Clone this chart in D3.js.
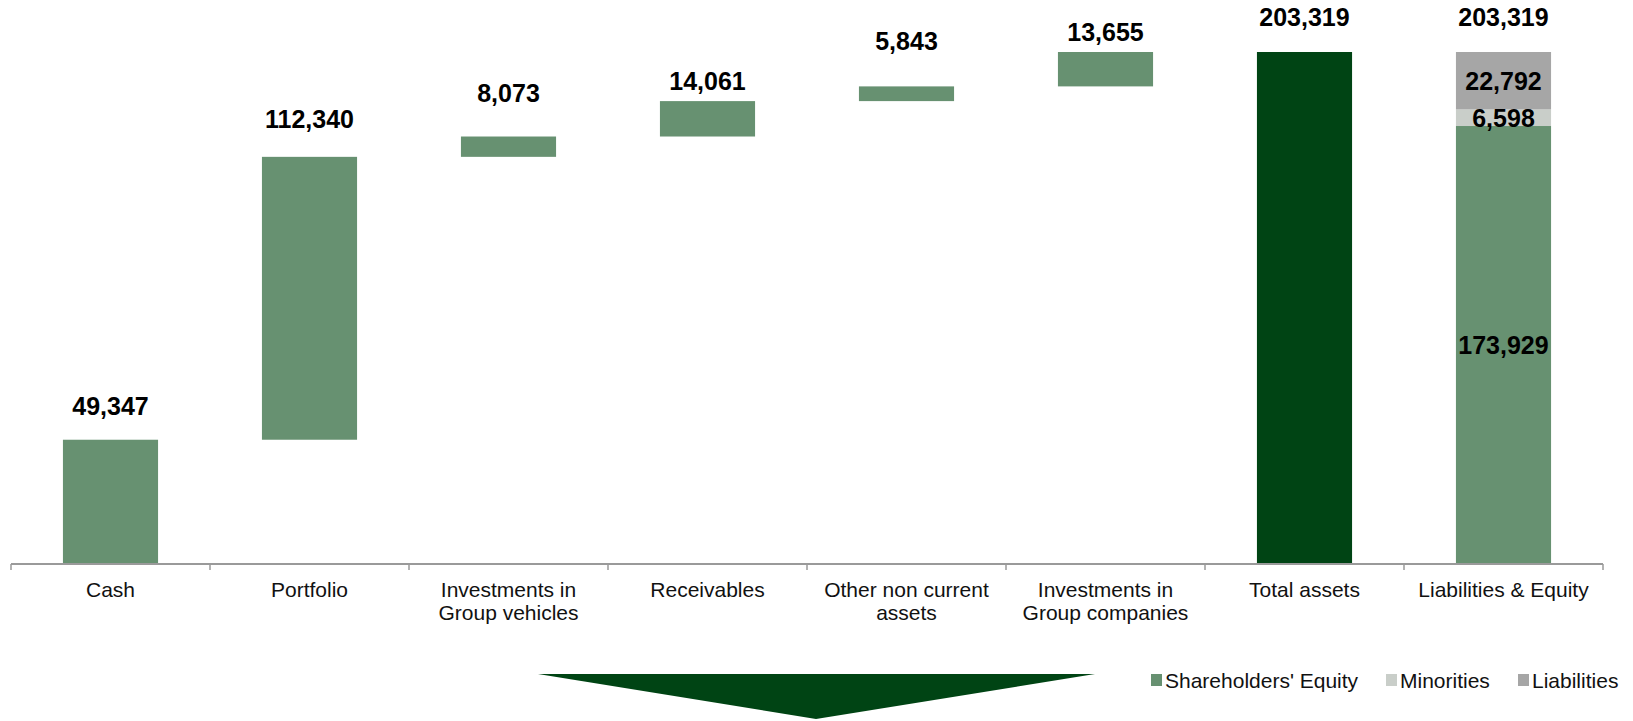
<!DOCTYPE html>
<html>
<head>
<meta charset="utf-8">
<script src="https://cdn.jsdelivr.net/npm/d3@7"></script>
<style>
  html, body { margin: 0; padding: 0; background: #ffffff; }
  svg { display: block; font-family: "Liberation Sans", Arial, sans-serif; }
</style>
</head>
<body>
<svg id="chart" width="1633" height="721"></svg>
<script>
// ---- data ----
const categories = [
  ["Cash"],
  ["Portfolio"],
  ["Investments in", "Group vehicles"],
  ["Receivables"],
  ["Other non current", "assets"],
  ["Investments in", "Group companies"],
  ["Total assets"],
  ["Liabilities & Equity"]
];
const stepValues = [49347, 112340, 8073, 14061, 5843, 13655];
const totalAssets = 203319;
const stackSeries = ["Shareholders' Equity", "Minorities", "Liabilities"];
const stackValues = [173929, 6598, 22792];

// ---- style / layout config ----
const seriesColors = ["#679171", "#c9cec9", "#a6a6a6"];
const stepColor = "#679171";
const totalColor = "#004414";
// distance (px) from bar top to the label baseline, per category, as placed in the source
const labelLift = [25, 29, 35, 11, 36, 11, 26, 26];
const fmt = d3.format(",");

const svg = d3.select("#chart");
const axisY = 564;
const keys = categories.map((c, i) => "c" + i);
const x = d3.scaleBand().domain(keys).range([11, 1603]).paddingInner(0).paddingOuter(0);
const y = d3.scaleLinear().domain([0, 220000]).range([axisY, 10]);
const barW = x.bandwidth() * 0.478;
const barX = k => x(k) + (x.bandwidth() - barW) / 2;
const cx = k => x(k) + x.bandwidth() / 2;

const labelStyle = sel => sel
  .attr("text-anchor", "middle")
  .attr("font-weight", "bold")
  .attr("font-size", "25px")
  .attr("fill", "#000");

// waterfall steps
let cum = 0;
const steps = stepValues.map((v, i) => {
  const s = { i, key: keys[i], start: cum, end: cum + v, value: v };
  cum += v;
  return s;
});

svg.append("g").selectAll("rect").data(steps).join("rect")
  .attr("x", d => barX(d.key))
  .attr("width", barW)
  .attr("y", d => y(d.end))
  .attr("height", d => y(d.start) - y(d.end))
  .attr("fill", stepColor);

svg.append("g").selectAll("text").data(steps).join("text")
  .call(labelStyle)
  .attr("x", d => cx(d.key))
  .attr("y", d => y(d.end) - labelLift[d.i])
  .text(d => fmt(d.value));

// total assets
const kTot = keys[6];
svg.append("rect")
  .attr("x", barX(kTot)).attr("width", barW)
  .attr("y", y(totalAssets)).attr("height", y(0) - y(totalAssets))
  .attr("fill", totalColor);
svg.append("text").call(labelStyle)
  .attr("x", cx(kTot)).attr("y", y(totalAssets) - labelLift[6])
  .text(fmt(totalAssets));

// stacked liabilities & equity
const kLE = keys[7];
let acc = 0;
const segs = stackValues.map((v, i) => {
  const s = { start: acc, end: acc + v, value: v, color: seriesColors[i] };
  acc += v;
  return s;
});
svg.append("g").selectAll("rect").data(segs).join("rect")
  .attr("x", barX(kLE)).attr("width", barW)
  .attr("y", d => y(d.end))
  .attr("height", d => y(d.start) - y(d.end))
  .attr("fill", d => d.color);
svg.append("g").selectAll("text").data(segs).join("text")
  .call(labelStyle)
  .attr("x", cx(kLE))
  .attr("y", d => (y(d.start) + y(d.end)) / 2 + 9)
  .text(d => fmt(d.value));
svg.append("text").call(labelStyle)
  .attr("x", cx(kLE)).attr("y", y(acc) - labelLift[7])
  .text(fmt(acc));

// axis
const axisG = svg.append("g");
axisG.append("line")
  .attr("x1", x.range()[0]).attr("x2", x.range()[1])
  .attr("y1", axisY).attr("y2", axisY)
  .attr("stroke", "#9a9a9a").attr("stroke-width", 2);
const bounds = keys.map(k => x(k)).concat([x.range()[1]]);
axisG.selectAll("line.tick").data(bounds).join("line")
  .attr("class", "tick")
  .attr("x1", d => d).attr("x2", d => d)
  .attr("y1", axisY).attr("y2", axisY + 6)
  .attr("stroke", "#9a9a9a").attr("stroke-width", 1.5);

const catText = axisG.selectAll("text.cat").data(categories).join("text")
  .attr("class", "cat")
  .attr("text-anchor", "middle")
  .attr("font-size", "21px")
  .attr("fill", "#111");
catText.each(function(lines, i) {
  const t = d3.select(this);
  lines.forEach((ln, j) => {
    t.append("tspan")
      .attr("x", cx(keys[i]))
      .attr("y", 597 + j * 23)
      .text(ln);
  });
});

// arrow
svg.append("path")
  .attr("d", "M538,674 L1095,674 L816,719 Z")
  .attr("fill", totalColor);

// legend
const legendItems = stackSeries.map((s, i) => ({ name: s, color: seriesColors[i] }));
const legendX = [1151, 1386, 1518];
const lg = svg.append("g").selectAll("g").data(legendItems).join("g")
  .attr("transform", (d, i) => `translate(${legendX[i]},674)`);
lg.append("rect").attr("width", 11).attr("height", 12).attr("fill", d => d.color);
lg.append("text")
  .attr("x", 14).attr("y", 14)
  .attr("font-size", "21px")
  .attr("fill", "#111")
  .text(d => d.name);
</script>
</body>
</html>
